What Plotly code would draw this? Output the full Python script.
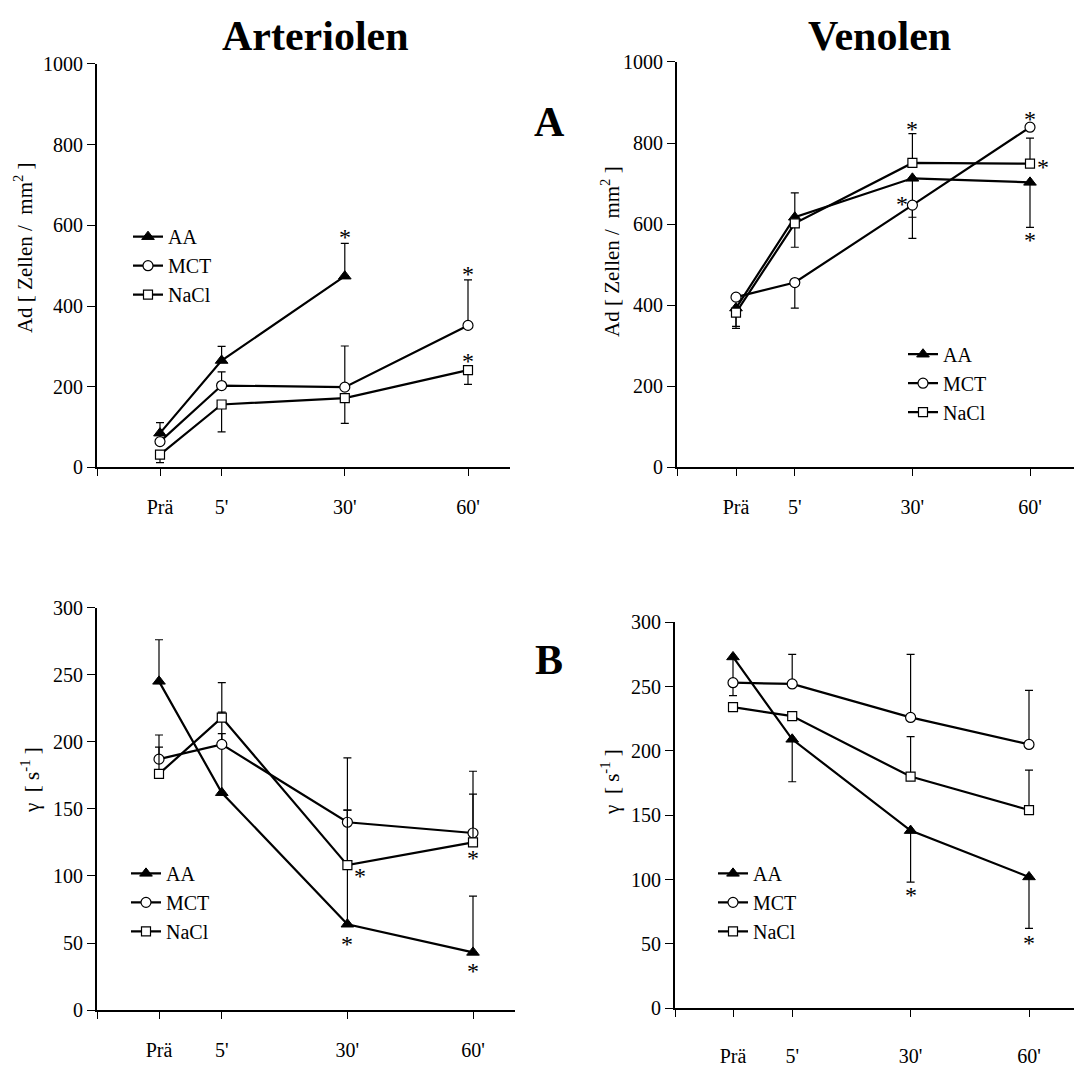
import plotly.graph_objects as go

FONT = "Liberation Serif"

# ---------------- data ----------------
x_labels = ["Prä", "5'", "30'", "60'"]
x_pos = [0, 1, 3, 5]
series_names = ["AA", "MCT", "NaCl"]

# Panel A - Arteriolen, Ad [Zellen / mm2]
art_ad_aa = [85, 265, 474, None]
art_ad_aa_up = [26, 35, 81, 0]
art_ad_aa_dn = [0, 0, 0, 0]
art_ad_mct = [64, 203, 199, 352]
art_ad_mct_up = [0, 34, 102, 113]
art_ad_mct_dn = [0, 0, 0, 0]
art_ad_nacl = [32, 156, 172, 241]
art_ad_nacl_up = [0, 0, 0, 0]
art_ad_nacl_dn = [20, 68, 63, 35]

# Panel A - Venolen
ven_ad_aa = [393, 617, 713, 703]
ven_ad_aa_up = [0, 60, 0, 0]
ven_ad_aa_dn = [45, 0, 96, 111]
ven_ad_mct = [420, 456, 647, 839]
ven_ad_mct_up = [0, 0, 0, 0]
ven_ad_mct_dn = [0, 63, 82, 0]
ven_ad_nacl = [382, 602, 751, 749]
ven_ad_nacl_up = [0, 0, 72, 63]
ven_ad_nacl_dn = [39, 59, 0, 0]

# Panel B - Arteriolen, gamma [s-1]
art_g_aa = [245, 162, 64, 43]
art_g_aa_up = [31, 60, 85, 42]
art_g_aa_dn = [0, 0, 0, 0]
art_g_mct = [187, 198, 140, 132]
art_g_mct_up = [18, 8, 48, 46]
art_g_mct_dn = [0, 0, 0, 0]
art_g_nacl = [176, 218, 108, 125]
art_g_nacl_up = [20, 26, 41, 36]
art_g_nacl_dn = [0, 0, 0, 0]

# Panel B - Venolen
ven_g_aa = [273, 209, 138, 102]
ven_g_aa_up = [0, 0, 0, 0]
ven_g_aa_dn = [30, 33, 40, 40]
ven_g_mct = [253, 252, 226, 205]
ven_g_mct_up = [0, 23, 49, 42]
ven_g_mct_dn = [0, 0, 0, 0]
ven_g_nacl = [234, 227, 180, 154]
ven_g_nacl_up = [0, 0, 31, 31]
ven_g_nacl_dn = [0, 0, 0, 0]

# significance asterisks (x position, y value) per panel
stars_art_ad = [(3, 572), (5, 480), (5, 264)]
stars_ven_ad = [(5, 860), (2.82, 650), (3, 835), (5.22, 741), (5, 561)]
stars_art_g = [(3, 49), (3.2, 100), (5, 113), (5, 29)]
stars_ven_g = [(3, 88), (5, 51)]

# ---------------- figure ----------------
W = H = 1074
fig = go.Figure()

marker_styles = {
    "AA": dict(symbol="triangle-up", size=11, color="black", line=dict(color="black", width=1)),
    "MCT": dict(symbol="circle", size=10, color="white", line=dict(color="black", width=1.2)),
    "NaCl": dict(symbol="square", size=9, color="white", line=dict(color="black", width=1.2)),
}

panels = [
    ("x", "y", "legend", [(art_ad_aa, art_ad_aa_up, art_ad_aa_dn),
                          (art_ad_mct, art_ad_mct_up, art_ad_mct_dn),
                          (art_ad_nacl, art_ad_nacl_up, art_ad_nacl_dn)]),
    ("x2", "y2", "legend2", [(ven_ad_aa, ven_ad_aa_up, ven_ad_aa_dn),
                             (ven_ad_mct, ven_ad_mct_up, ven_ad_mct_dn),
                             (ven_ad_nacl, ven_ad_nacl_up, ven_ad_nacl_dn)]),
    ("x3", "y3", "legend3", [(art_g_aa, art_g_aa_up, art_g_aa_dn),
                             (art_g_mct, art_g_mct_up, art_g_mct_dn),
                             (art_g_nacl, art_g_nacl_up, art_g_nacl_dn)]),
    ("x4", "y4", "legend4", [(ven_g_aa, ven_g_aa_up, ven_g_aa_dn),
                             (ven_g_mct, ven_g_mct_up, ven_g_mct_dn),
                             (ven_g_nacl, ven_g_nacl_up, ven_g_nacl_dn)]),
]

for xa, ya, lg, series in panels:
    for name, (vals, up, dn) in zip(series_names, series):
        fig.add_trace(go.Scatter(
            x=x_pos, y=vals, name=name, mode="lines+markers",
            xaxis=xa, yaxis=ya, legend=lg,
            line=dict(color="black", width=2.2),
            marker=marker_styles[name],
            connectgaps=False,
            error_y=dict(type="data", symmetric=False, array=up, arrayminus=dn,
                         color="black", thickness=1.2, width=4),
        ))


def px_x(p):
    return p / W


def px_y(p):
    return 1 - p / H


# axis geometry (pixels)
geo = {
    "1": dict(xl=97, xr=510, yt=54, yb=466, xp0=160, xp5=468),
    "2": dict(xl=677, xr=1074, yt=52, yb=466, xp0=736, xp5=1030),
    "3": dict(xl=97, xr=515, yt=609, yb=1020, xp0=159, xp5=473),
    "4": dict(xl=675, xr=1074, yt=624, yb=1018, xp0=733, xp5=1029),
}
yranges = {"1": (1000, 200), "2": (1000, 200), "3": (300, 50), "4": (300, 50)}
standoffs = {"1": 14, "2": 14, "3": 14, "4": 22}

tickfont = dict(family=FONT, size=20, color="black")
for k, g in geo.items():
    unit = (g["xp5"] - g["xp0"]) / 5.0
    lo = (g["xl"] - g["xp0"]) / unit
    hi = (g["xr"] - g["xp0"]) / unit
    xname = "xaxis" if k == "1" else "xaxis" + k
    yname = "yaxis" if k == "1" else "yaxis" + k
    yref = "y" if k == "1" else "y" + k
    xref = "x" if k == "1" else "x" + k
    fig.layout[xname] = dict(
        domain=[px_x(g["xl"]), min(1.0, px_x(g["xr"]))], range=[lo, hi], anchor=yref,
        tickvals=[lo + 0.004] + x_pos, ticktext=[""] + x_labels,
        ticks="outside", ticklen=7, tickwidth=1.3, tickcolor="black",
        showline=True, linecolor="black", linewidth=2,
        showgrid=False, zeroline=False, tickfont=tickfont,
        ticklabelstandoff=standoffs[k],
    )
    ymax, dt = yranges[k]
    fig.layout[yname] = dict(
        domain=[px_y(g["yb"]), px_y(g["yt"])], range=[0, ymax], anchor=xref,
        tick0=0, dtick=dt, ticks="outside", ticklen=8, tickwidth=1.3, tickcolor="black",
        showline=True, linecolor="black", linewidth=2,
        showgrid=False, zeroline=False, tickfont=tickfont,
    )

annotations = []
for k, stars in zip(["1", "2", "3", "4"], [stars_art_ad, stars_ven_ad, stars_art_g, stars_ven_g]):
    xref = "x" if k == "1" else "x" + k
    yref = "y" if k == "1" else "y" + k
    for sx, sy in stars:
        annotations.append(dict(x=sx, y=sy, xref=xref, yref=yref, text="*", showarrow=False,
                                font=dict(family=FONT, size=24, color="#000000"),
                                xanchor="center", yanchor="middle"))

big = dict(family=FONT, size=42, color="black")
annotations += [
    dict(x=px_x(315), y=px_y(26), xref="paper", yref="paper", text="<b>Arteriolen</b>",
         showarrow=False, font=big, xanchor="center", yanchor="middle"),
    dict(x=px_x(879), y=px_y(26), xref="paper", yref="paper", text="<b>Venolen</b>",
         showarrow=False, font=big, xanchor="center", yanchor="middle"),
    dict(x=px_x(549), y=px_y(113), xref="paper", yref="paper", text="<b>A</b>",
         showarrow=False, font=big, xanchor="center", yanchor="middle"),
    dict(x=px_x(549), y=px_y(663), xref="paper", yref="paper", text="<b>B</b>",
         showarrow=False, font=big, xanchor="center", yanchor="middle"),
]

ytitle_ad = "Ad [ Zellen /  mm<sup>2</sup> ]"
ytitle_g = "γ  [ s<sup>-1</sup> ]"
for (cx, cy, txt) in [(23, 242, ytitle_ad), (611, 246, ytitle_ad),
                      (31, 785, ytitle_g), (611, 787, ytitle_g)]:
    annotations.append(dict(x=px_x(cx), y=px_y(cy), xref="paper", yref="paper", text=txt,
                            textangle=-90, showarrow=False,
                            font=dict(family=FONT, size=21, color="black"),
                            xanchor="center", yanchor="middle"))

legend_common = dict(font=dict(family=FONT, size=20, color="black"), bgcolor="rgba(0,0,0,0)",
                     borderwidth=0, xanchor="left", yanchor="middle", tracegroupgap=0)
fig.update_layout(
    width=W, height=H, autosize=False,
    margin=dict(l=0, r=0, t=0, b=0),
    paper_bgcolor="white", plot_bgcolor="white",
    annotations=annotations,
    hovermode=False,
    legend=dict(x=px_x(128), y=px_y(260), **legend_common),
    legend2=dict(x=px_x(903), y=px_y(380), **legend_common),
    legend3=dict(x=px_x(126), y=px_y(910), **legend_common),
    legend4=dict(x=px_x(713), y=px_y(910), **legend_common),
)

fig.write_html("out.html", config={"displayModeBar": False},
               post_script="document.body.style.margin='0';document.body.style.overflow='hidden';")
